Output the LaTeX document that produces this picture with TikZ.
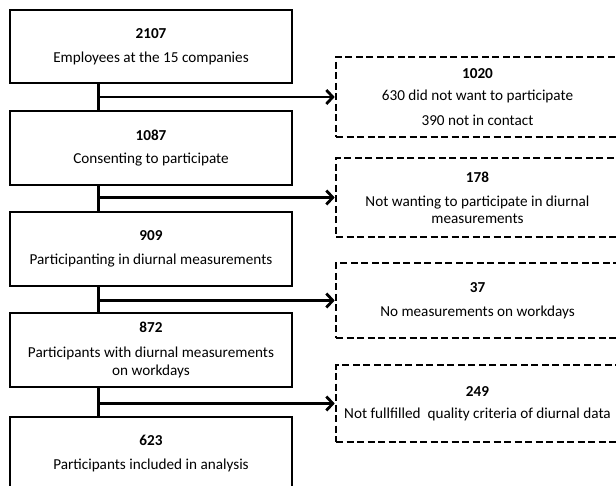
\documentclass[tikz,border=0pt]{standalone}
\usepackage{fontspec}
\setmainfont{Carlito}
\usetikzlibrary{arrows.meta}
\begin{document}
\begin{tikzpicture}[x=1pt,y=-1pt,
  solidbox/.style={draw, line width=2.9pt, minimum width=282pt, minimum height=74pt, align=center, inner sep=0pt, font=\fontsize{15.2}{18.5}\selectfont},
  dashbox/.style={solidbox, dash pattern=on 7pt off 3.5pt, line width=2.6pt, minimum width=283pt},
  flow/.style={line width=3pt},
  arr/.style={line width=2.8pt, -{Straight Barb[length=6.5pt,width=14pt]}}]
\useasboundingbox (0,0) rectangle (616,486);
% main boxes
\node[solidbox, minimum height=73pt] (b1) at (151,46.5) {\textbf{2107}\\[5pt]Employees at the 15 companies};
\node[solidbox] (b2) at (151,148) {\textbf{1087}\\[5pt]Consenting to participate};
\node[solidbox] (b3) at (151,249) {\textbf{909}\\[5pt]Participanting in diurnal measurements};
\node[solidbox] (b4) at (151,350) {\textbf{872}\\[6pt]Participants with diurnal measurements\\on workdays};
\node[solidbox, minimum height=73pt] (b5) at (151,453.5) {\textbf{623}\\[5pt]Participants included in analysis};
% exclusion boxes
\node[dashbox, minimum height=80pt] (d1) at (477.5,97) {\textbf{1020}\\[4pt]630 did not want to participate\\[6pt]390 not in contact};
\node[dashbox, minimum height=79pt] (d2) at (477.5,197.5) {\textbf{178}\\[6pt]Not wanting to participate in diurnal\\[-2pt]measurements};
\node[dashbox, minimum height=75pt] (d3) at (477.5,300.5) {\textbf{37}\\[6pt]No measurements on workdays};
\node[dashbox, minimum height=77pt] (d4) at (477.5,403.5) {\textbf{249}\\[4pt]Not fullfilled~ quality criteria of diurnal data};
% junctions
\coordinate (j1) at (98,97);
\coordinate (j2) at (98,197.5);
\coordinate (j3) at (98,300.5);
\coordinate (j4) at (98,403.5);
% connectors
\draw[flow] (b1.south -| j1) -- (b2.north -| j1);
\draw[flow] (b2.south -| j2) -- (b3.north -| j2);
\draw[flow] (b3.south -| j3) -- (b4.north -| j3);
\draw[flow] (b4.south -| j4) -- (b5.north -| j4);
\draw[arr] (j1) -- (d1.west);
\draw[arr] (j2) -- (d2.west);
\draw[arr] (j3) -- (d3.west);
\draw[arr] (j4) -- (d4.west);
\end{tikzpicture}
\end{document}
